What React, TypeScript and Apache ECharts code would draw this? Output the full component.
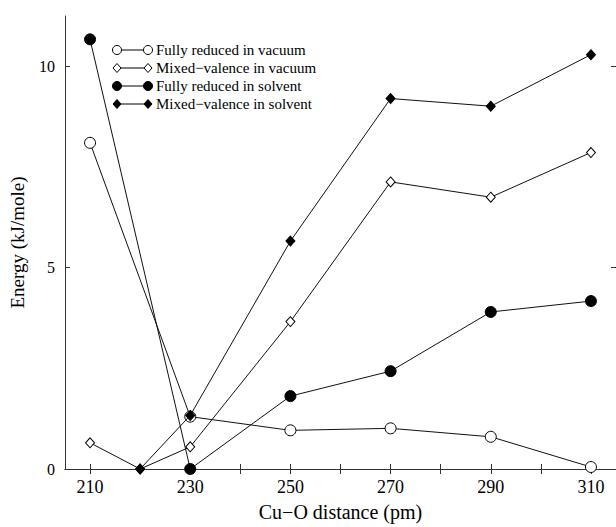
import React, { useEffect, useRef } from "react";
import * as echarts from "echarts";

// ---- data ----
const seriesNames = [
  "Fully reduced in vacuum",
  "Mixed\u2212valence in vacuum",
  "Fully reduced in solvent",
  "Mixed\u2212valence in solvent",
];
const distFRVac = [210, 230, 250, 270, 290, 310];
const fullyReducedVacuum = [8.1, 1.3, 0.96, 1.01, 0.8, 0.05];
const distMVVac = [210, 220, 230, 250, 270, 290, 310];
const mixedValenceVacuum = [0.65, 0, 0.55, 3.66, 7.13, 6.75, 7.86];
const distFRSol = [210, 230, 250, 270, 290, 310];
const fullyReducedSolvent = [10.67, 0, 1.81, 2.43, 3.9, 4.17];
const distMVSol = [220, 230, 250, 270, 290, 310];
const mixedValenceSolvent = [0, 1.33, 5.66, 9.2, 9.01, 10.29];

const xLabelValues = [210, 230, 250, 270, 290, 310];
const xTickValues = [210, 220, 230, 240, 250, 260, 270, 280, 290, 300, 310];
const yLabelValues = [0, 5, 10];

const FONT = "'Liberation Serif', 'Times New Roman', serif";

function zip(xs: number[], ys: number[]) {
  return xs.map((x, i) => [x, ys[i]]);
}

export default function App() {
  const ref = useRef<HTMLDivElement>(null);
  useEffect(() => {
    if (!ref.current) return;
    const chart = echarts.init(ref.current, undefined, { renderer: "svg" });

    const styles = [
      { symbol: "circle", filled: false },
      { symbol: "diamond", filled: false },
      { symbol: "circle", filled: true },
      { symbol: "diamond", filled: true },
    ];
    const datasets = [
      zip(distFRVac, fullyReducedVacuum),
      zip(distMVVac, mixedValenceVacuum),
      zip(distFRSol, fullyReducedSolvent),
      zip(distMVSol, mixedValenceSolvent),
    ];

    const series = datasets.map((d, i) => ({
      type: "line",
      name: seriesNames[i],
      data: d,
      symbol: styles[i].symbol,
      symbolSize: styles[i].symbol === "circle" ? 11 : [9, 10],
      showSymbol: true,
      itemStyle: {
        color: styles[i].filled ? "#000" : "#fff",
        borderColor: "#000",
        borderWidth: 1,
      },
      lineStyle: { color: "#111", width: 1 },
      emphasis: { disabled: true },
      z: 2 + i,
    }));

    // legend drawn as graphic
    const legendGraphics: any[] = [];
    const rowYs = [50, 68, 86, 104];
    const x1 = 117;
    const x2 = 148;
    styles.forEach((s, i) => {
      const y = rowYs[i];
      legendGraphics.push({
        type: "line",
        shape: { x1, y1: y, x2, y2: y },
        style: { stroke: "#000", lineWidth: 1 },
      });
      [x1, x2].forEach((cx) => {
        if (s.symbol === "circle") {
          legendGraphics.push({
            type: "circle",
            shape: { cx, cy: y, r: 4.5 },
            style: { fill: s.filled ? "#000" : "#fff", stroke: "#000", lineWidth: 1 },
          });
        } else {
          legendGraphics.push({
            type: "polygon",
            shape: {
              points: [
                [cx, y - 4.5],
                [cx + 4, y],
                [cx, y + 4.5],
                [cx - 4, y],
              ],
            },
            style: { fill: s.filled ? "#000" : "#fff", stroke: "#000", lineWidth: 1 },
          });
        }
      });
      legendGraphics.push({
        type: "text",
        x: 156,
        y,
        style: {
          text: seriesNames[i],
          fontSize: 15,
          fontFamily: FONT,
          fill: "#000",
          verticalAlign: "middle",
          align: "left",
        },
      });
    });

    const axisLine = { show: true, lineStyle: { color: "#333", width: 1 } };
    const tickIn = { inside: true, length: 5, lineStyle: { color: "#333", width: 1 } };

    chart.setOption({
      animation: false,
      backgroundColor: "#fff",
      grid: { left: 62, top: 16, width: 558, height: 467 },
      xAxis: [
        {
          type: "value",
          min: 205,
          max: 315,
          name: "Cu\u2212O distance (pm)",
          nameLocation: "middle",
          nameGap: 33,
          nameTextStyle: { fontFamily: FONT, fontSize: 20, color: "#000" },
          axisLine,
          axisTick: { ...tickIn, customValues: xTickValues },
          axisLabel: {
            customValues: xLabelValues,
            fontFamily: FONT,
            fontSize: 18,
            color: "#000",
            margin: 9,
          },
          splitLine: { show: false },
        },
        {
          type: "value",
          position: "top",
          min: 205,
          max: 315,
          axisLine,
          axisTick: { ...tickIn, customValues: xTickValues },
          axisLabel: { show: false },
          splitLine: { show: false },
        },
      ],
      yAxis: [
        {
          type: "value",
          min: 0,
          max: 11.25,
          name: "Energy (kJ/mole)",
          nameLocation: "middle",
          nameGap: 38,
          nameRotate: 90,
          nameTextStyle: { fontFamily: FONT, fontSize: 19, color: "#000" },
          axisLine,
          axisTick: { ...tickIn, customValues: yLabelValues },
          axisLabel: {
            customValues: yLabelValues,
            fontFamily: FONT,
            fontSize: 16,
            color: "#000",
            margin: 10,
          },
          splitLine: { show: false },
        },
        {
          type: "value",
          position: "right",
          min: 0,
          max: 11.25,
          axisLine,
          axisTick: { ...tickIn, customValues: yLabelValues },
          axisLabel: { show: false },
          splitLine: { show: false },
        },
      ],
      series,
      graphic: legendGraphics,
    });
    return () => chart.dispose();
  }, []);
  return (
    <div
      ref={ref}
      style={{ position: "absolute", left: 0, top: 0, width: 616, height: 527 }}
    />
  );
}
